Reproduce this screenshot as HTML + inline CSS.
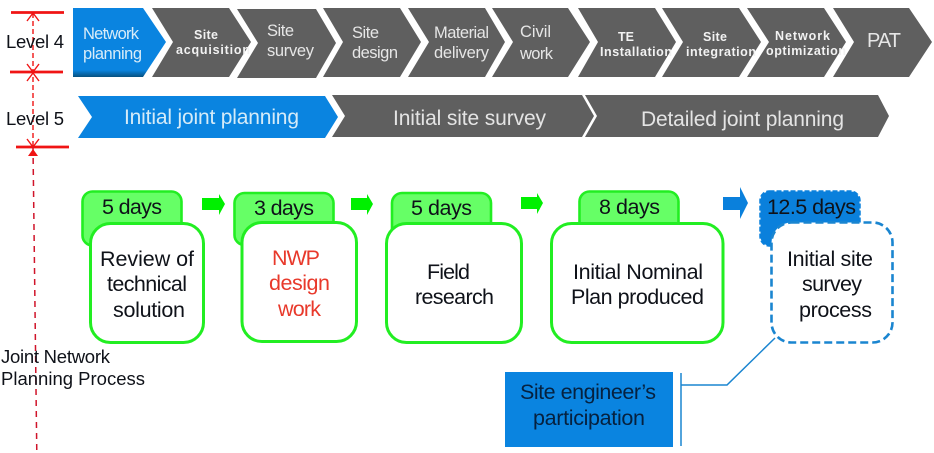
<!DOCTYPE html>
<html><head><meta charset="utf-8"><style>
html,body{margin:0;padding:0;background:#fff;width:934px;height:453px;overflow:hidden}
svg{display:block}
text{font-family:"Liberation Sans",Arial,sans-serif}
.k{fill:#0f1219;font-size:21.5px}
.d{fill:#0f1219;font-size:21.5px}
.w{fill:#e6e6e6;font-size:16.5px}
.b{fill:#f2f2f2;font-size:12.5px;font-weight:bold}
.l5{fill:#e4e4e4;font-size:21px}
.tab{fill:#66ff66;stroke:#22ee22;stroke-width:2.6}
.card{fill:#fff;stroke:#22ee22;stroke-width:3}
</style></head><body>
<svg width="934" height="453" viewBox="0 0 934 453" xmlns="http://www.w3.org/2000/svg">
<defs>
<linearGradient id="bl" x1="0" y1="0" x2="0" y2="1">
<stop offset="0" stop-color="#0a84e0"/><stop offset=".9" stop-color="#0a84e0"/><stop offset="1" stop-color="#06507f"/>
</linearGradient>
</defs>
<!-- level 4 chevrons -->
<polygon points="73,8 143,8 166,42 143,77 73,77" fill="url(#bl)"/>
<g fill="#5f5f5f">
<polygon points="152,8 229,8 251,42 229,77 152,77 173,42"/>
<polygon points="237,9 316,9 336,43 316,78 237,78 258,43"/>
<polygon points="323,8 400,8 421,42 400,77 323,77 343,42"/>
<polygon points="408,8 485,8 505,42 485,77 408,77 429,42"/>
<polygon points="492,8 568,8 590,42 568,77 492,77 513,42"/>
<polygon points="578,8 655,8 676,42 655,77 578,77 598,42"/>
<polygon points="662,8 739,8 761,42 739,77 662,77 683,42"/>
<polygon points="747,8 824,8 846,42 824,77 747,77 769,42"/>
<polygon points="833,8 909,8 932,42 909,77 833,77 854,42"/>
</g>
<!-- level 5 chevrons -->
<polygon points="78,96 325,96 338,117 325,138 78,138 92,117" fill="#0a84e0"/>
<polygon points="332,95 582,95 594,116 582,137 332,137 345,116" fill="#5f5f5f"/>
<polygon points="585,95 878,95 889,116 878,137 585,137 597,116" fill="#5f5f5f"/>
<!-- red dimension lines -->
<g stroke="#f01414" fill="none">
<path d="M11 12.5H64M10 72H63M16 147H69" stroke-width="2.8"/>
<path d="M33 13V147" stroke-width="1.4" stroke-dasharray="5 3"/>
<path d="M33 147L36.8 453" stroke="#d0142a" stroke-width="1.5" stroke-dasharray="6 5"/>
<path d="M27 21L33 13L39 21M27 64L33 72L39 64M27 81L33 73L39 81M27 139L33 147L39 139" stroke-width="1.4"/>
</g>
<polygon points="33,149 38,156 28,156" fill="#f01414"/>
<!-- level labels -->
<text x="6" y="48" font-size="18.5" fill="#0f1219" textLength="58">Level 4</text>
<text x="6" y="125" font-size="18.5" fill="#0f1219" textLength="58">Level 5</text>
<!-- level 4 text -->
<text class="w" x="83" y="39" style="fill:#d8ecf8" textLength="56">Network</text>
<text class="w" x="83" y="59" style="fill:#d8ecf8" textLength="59">planning</text>
<text class="b" x="194" y="39" textLength="24">Site</text>
<text class="b" x="176" y="54" textLength="74">acquisition</text>
<text class="w" x="267" y="36" textLength="27">Site</text>
<text class="w" x="267" y="56" textLength="47">survey</text>
<text class="w" x="352" y="38" textLength="27">Site</text>
<text class="w" x="352" y="58" textLength="46">design</text>
<text class="w" x="434" y="38" textLength="55">Material</text>
<text class="w" x="434" y="58" textLength="55">delivery</text>
<text class="w" x="520" y="37" textLength="31">Civil</text>
<text class="w" x="520" y="59" textLength="33">work</text>
<text class="b" x="618" y="41" textLength="16">TE</text>
<text class="b" x="600" y="56" textLength="72">Installation</text>
<text class="b" x="703" y="41" textLength="24">Site</text>
<text class="b" x="686" y="56" textLength="70">integration</text>
<text class="b" x="775" y="40" textLength="55">Network</text>
<text class="b" x="766" y="55" textLength="80">optimization</text>
<text x="867" y="47" font-size="20" fill="#e6e6e6" textLength="34">PAT</text>
<!-- level 5 text -->
<text class="l5" x="124" y="124" style="fill:#d5ebf8" textLength="175">Initial joint planning</text>
<text class="l5" x="393" y="125" textLength="153">Initial site survey</text>
<text class="l5" x="641" y="126" textLength="203">Detailed joint planning</text>
<!-- arrows -->
<g fill="#00f000">
<polygon points="202,198 219,198 219,194 225,204 219,215 219,210 202,210"/>
<polygon points="351,198 367,198 367,194 373,204 367,215 367,210 351,210"/>
<polygon points="521,197 537,197 537,193 543,203 537,214 537,209 521,209"/>
</g>
<polygon points="723,197 740,197 740,187 748,203 740,219 740,210 723,210" fill="#0a80dc"/>
<!-- tabs and cards -->
<rect class="tab" x="82.5" y="191.5" width="99" height="54" rx="10"/>
<rect class="card" x="90.5" y="223.5" width="113" height="119" rx="20"/>
<rect class="tab" x="234.5" y="193" width="99" height="52" rx="10"/>
<rect class="card" x="242" y="222.5" width="114.5" height="119" rx="20"/>
<rect class="tab" x="392" y="193" width="99" height="50" rx="10"/>
<rect class="card" x="386.5" y="223.5" width="135" height="119" rx="20"/>
<rect class="tab" x="579.5" y="191.5" width="99" height="50" rx="10"/>
<rect class="card" x="551.5" y="223.5" width="171.5" height="119" rx="20"/>
<rect x="760.5" y="191.5" width="99" height="54" rx="9" fill="#0a80dc" stroke="#0a80dc" stroke-width="2.5" stroke-dasharray="5 2"/>
<rect x="771.5" y="222.5" width="121" height="120" rx="20" fill="#fff" stroke="#1a85d0" stroke-width="2.6" stroke-dasharray="8 4"/>
<!-- tab text -->
<text class="d" x="102" y="214" textLength="60">5 days</text>
<text class="d" x="254" y="215" textLength="60">3 days</text>
<text class="d" x="411" y="215" textLength="61">5 days</text>
<text class="d" x="599" y="214" textLength="61">8 days</text>
<text class="d" x="767" y="214" textLength="89">12.5 days</text>
<!-- card text -->
<text class="k" x="100" y="266" textLength="94">Review of</text>
<text class="k" x="107" y="291" textLength="80">technical</text>
<text class="k" x="113" y="317" textLength="72">solution</text>
<text class="k" x="272" y="265" style="fill:#e8392b" textLength="48">NWP</text>
<text class="k" x="269" y="290" style="fill:#e8392b" textLength="61">design</text>
<text class="k" x="278" y="316" style="fill:#e8392b" textLength="43">work</text>
<text class="k" x="427" y="279" textLength="43">Field</text>
<text class="k" x="415" y="304" textLength="79">research</text>
<text class="k" x="573" y="279" textLength="130">Initial Nominal</text>
<text class="k" x="571" y="304" textLength="133">Plan produced</text>
<text class="k" x="787" y="266" textLength="86">Initial site</text>
<text class="k" x="802" y="291" textLength="60">survey</text>
<text class="k" x="799" y="317" textLength="73">process</text>
<!-- site engineer -->
<rect x="505" y="372" width="168" height="75" fill="#0a84e0"/>
<text x="520" y="399" font-size="21.5" fill="#06213f" textLength="136">Site engineer’s</text>
<text x="533" y="425" font-size="21.5" fill="#06213f" textLength="112">participation</text>
<path d="M681 373V446M681 385H727L775 338" fill="none" stroke="#1a85d0" stroke-width="1.5"/>
<!-- side label -->
<text x="1" y="363" font-size="18.5" fill="#0f1219" textLength="109">Joint Network</text>
<text x="1" y="385" font-size="18.5" fill="#0f1219" textLength="144">Planning  Process</text>
</svg>
</body></html>
